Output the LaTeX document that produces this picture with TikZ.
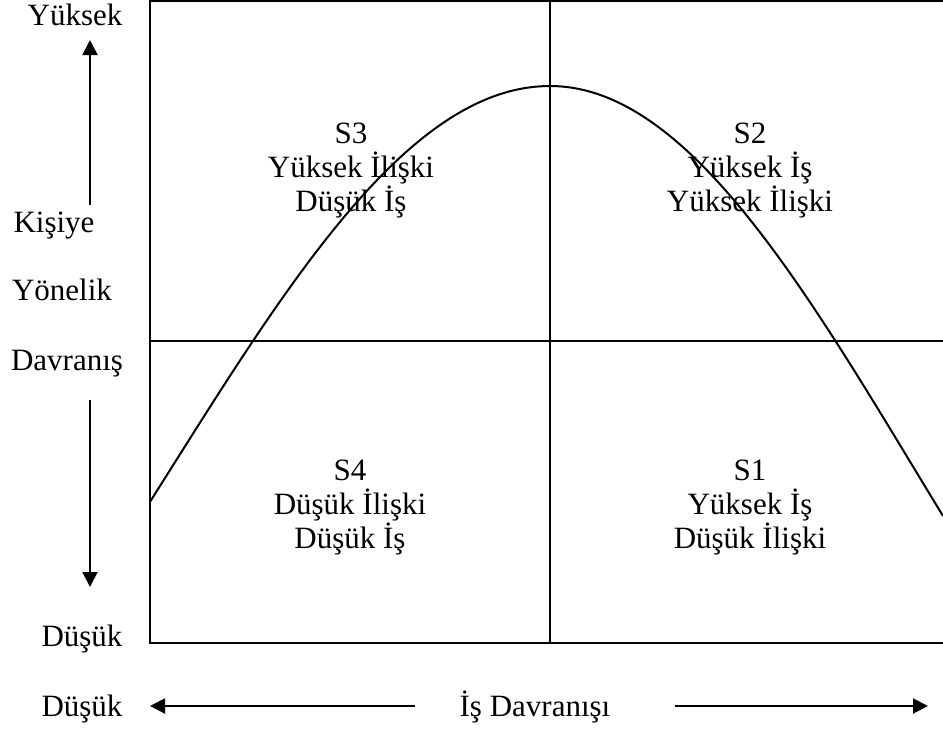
\documentclass[tikz,border=0pt]{standalone}
\usepackage{fontspec}
\setmainfont{Liberation Serif}
\usetikzlibrary{arrows.meta}
\tikzset{
  frameline/.style={draw=black,line width=1.2pt},
  curveline/.style={draw=black,line width=1pt},
  axarrow/.style={-{Triangle[length=7.5pt,width=7.5pt]},draw=black,line width=1pt},
  lbl/.style={font=\fontsize{15.5}{17}\selectfont,inner sep=0pt,anchor=base},
  quadtext/.style={font=\fontsize{15.5}{17}\selectfont,inner sep=0pt,align=center},
}

\begin{document}
\begin{tikzpicture}[x=0.5pt,y=-0.5pt]
  \useasboundingbox (0,0) rectangle (943,729);
  % frame and quadrants
  \draw[frameline] (943,1) -- (150,1) -- (150,643) -- (943,643);
  \draw[frameline] (550,0) -- (550,643);
  \draw[frameline] (150,341) -- (943,341);
  % curve
  \draw[curveline] plot[domain=150:550,samples=80,smooth] (\x,{86+384*(1-cos(0.2369*(\x-550)))})
    -- plot[domain=550:943,samples=80,smooth] (\x,{86+384*(1-cos(0.2465*(\x-550)))});
  % quadrant labels
  \node[quadtext] (s3) at (351,171) {S3\\Yüksek İlişki\\Düşük İş};
  \node[quadtext] (s2) at (750,171) {S2\\Yüksek İş\\Yüksek İlişki};
  \node[quadtext] (s4) at (350,508) {S4\\Düşük İlişki\\Düşük İş};
  \node[quadtext] (s1) at (750,508) {S1\\Yüksek İş\\Düşük İlişki};
  % vertical axis
  \node[lbl] (yhigh) at (75,25) {Yüksek};
  \node[lbl] (kisiye) at (54,232) {Kişiye};
  \node[lbl] (yonelik) at (62,300) {Yönelik};
  \node[lbl] (davranis) at (67,370) {Davranış};
  \node[lbl] (ylow) at (82,646) {Düşük};
  \coordinate (upfrom) at (90,205);
  \coordinate (upto) at (90,40);
  \coordinate (downfrom) at (90,400);
  \coordinate (downto) at (90,587);
  \draw[axarrow] (upfrom) -- (upto);
  \draw[axarrow] (downfrom) -- (downto);
  % horizontal axis
  \node[lbl] (xlow) at (82,716) {Düşük};
  \node[lbl] (xtitle) at (535,716) {İş Davranışı};
  \coordinate (leftfrom) at (415,706);
  \coordinate (leftto) at (150,706);
  \coordinate (rightfrom) at (675,706);
  \coordinate (rightto) at (928,706);
  \draw[axarrow] (leftfrom) -- (leftto);
  \draw[axarrow] (rightfrom) -- (rightto);
\end{tikzpicture}
\end{document}
